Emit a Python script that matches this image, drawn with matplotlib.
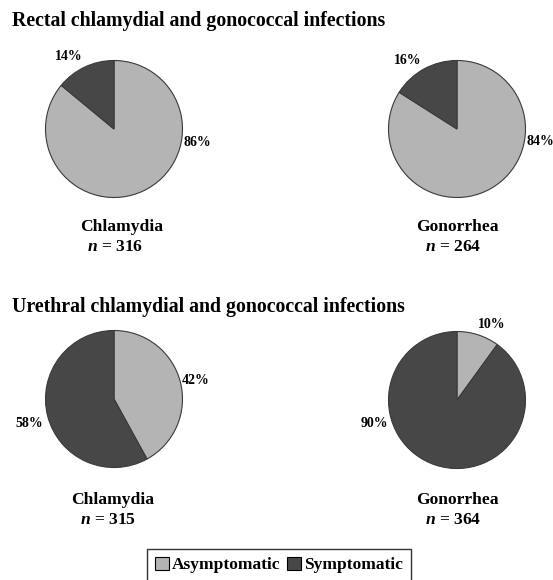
import matplotlib.pyplot as plt
from matplotlib.patches import Patch

plt.rcParams['font.family'] = ['Liberation Serif', 'DejaVu Serif']
plt.rcParams['font.weight'] = 'bold'
plt.rcParams['mathtext.fontset'] = 'custom'
plt.rcParams['mathtext.it'] = 'Liberation Serif:italic:bold'
plt.rcParams['mathtext.rm'] = 'Liberation Serif:bold'

# data
groups = ["Rectal chlamydial and gonococcal infections",
          "Urethral chlamydial and gonococcal infections"]
infections = ["Chlamydia", "Gonorrhea"]
n_values = [[316, 264], [315, 364]]
asymptomatic = [[86, 84], [42, 10]]
symptomatic = [[14, 16], [58, 90]]
legend_labels = ["Asymptomatic", "Symptomatic"]

color_asym = "#b4b4b4"
color_sym = "#474747"
edge = "#3a3a3a"

W, H = 553, 580
fig = plt.figure(figsize=(W / 100, H / 100), dpi=100)

# pie centres in pixels, label offsets in pixels (asym, sym)
centres = [[(114, 129), (457, 129)], [(114, 399), (457, 400)]]
label_off = [
    [[(83.5, -13), (-45.5, 72)], [(83, -12.5), (-49, 69)]],
    [[(82, 18), (-84.3, -24.3)], [(35, 75), (-83, -23.3)]],
]
title_y = [21, 307]
name_pos = [[(121.7, 226.7), (457, 226.7)], [(113, 500), (457, 500)]]
n_pos = [[(114.7, 246.7), (453.5, 246.7)], [(108, 520), (453.5, 520)]]

r = 68.5
lim = 1.6
for g in range(2):
    fig.text(12.5 / W, 1 - title_y[g] / H, groups[g], fontsize=14.3,
             ha='left', va='center')
    for i in range(2):
        cx, cy = centres[g][i]
        b = 2 * lim * r
        ax = fig.add_axes([(cx - b / 2) / W, 1 - (cy + b / 2) / H, b / W, b / H])
        vals = [asymptomatic[g][i], symptomatic[g][i]]
        ax.pie(vals, colors=[color_asym, color_sym], startangle=90, counterclock=False,
               wedgeprops=dict(edgecolor=edge, linewidth=0.8))
        ax.set_xlim(-lim, lim)
        ax.set_ylim(-lim, lim)
        ax.axis('off')
        for v, off in zip(vals, label_off[g][i]):
            ax.annotate(f"{v}%", xy=(0, 0), xytext=off, textcoords='offset pixels',
                        fontsize=10, ha='center', va='center', annotation_clip=False)
        nx, ny = name_pos[g][i]
        fig.text(nx / W, 1 - ny / H, infections[i], fontsize=12.6, ha='center', va='center')
        px, py = n_pos[g][i]
        fig.text(px / W, 1 - py / H, f"$n$ = {n_values[g][i]}",
                 fontsize=12.6, ha='center', va='center')

handles = [Patch(facecolor=color_asym, edgecolor='black', linewidth=0.8),
           Patch(facecolor=color_sym, edgecolor='black', linewidth=0.8)]
leg = fig.legend(handles, legend_labels, loc='upper left', ncol=2,
                 bbox_to_anchor=(147 / W, 1 - 549 / H), fontsize=12.5,
                 frameon=True, fancybox=False, edgecolor='black',
                 handlelength=0.8, handleheight=0.8, handletextpad=0.17,
                 columnspacing=0.4, borderpad=0.45, borderaxespad=0)
leg.get_frame().set_linewidth(1.0)

plt.savefig("out.png", dpi=100)
